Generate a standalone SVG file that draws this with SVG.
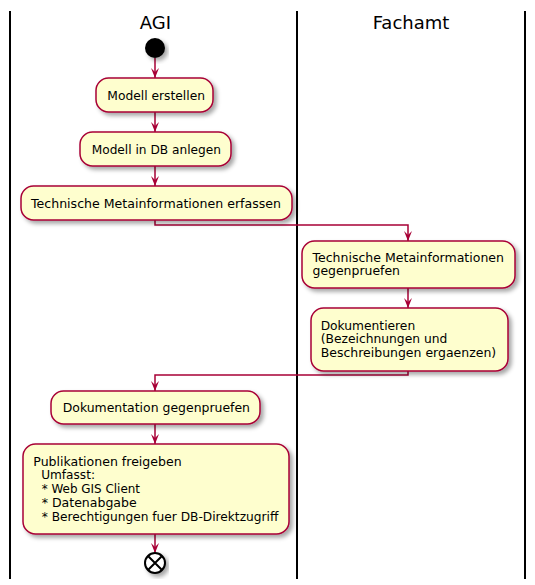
<svg xmlns="http://www.w3.org/2000/svg" width="535" height="585" viewBox="0 0 535 585">
<defs>
<filter id="sh" x="-10%" y="-10%" width="130%" height="140%">
<feDropShadow dx="3" dy="3" stdDeviation="2" flood-color="#000" flood-opacity="0.35"/>
</filter>
<marker id="ah" viewBox="0 0 10 10" refX="10" refY="5" markerWidth="10" markerHeight="10" markerUnits="userSpaceOnUse" orient="auto">
<path d="M0,1 L10,5 L0,9 L4,5 Z" fill="#A80036"/>
</marker>
<style>
.lane{stroke:#000;stroke-width:2;fill:none}
.title{font-family:"DejaVu Sans",sans-serif;font-size:18px;fill:#000;text-anchor:middle}
.box{fill:#FEFECE;stroke:#A80036;stroke-width:1.5;filter:url(#sh)}
.t{font-family:"DejaVu Sans",sans-serif;font-size:12.4px;fill:#000}
.con{stroke:#A80036;stroke-width:1.5;fill:none;marker-end:url(#ah)}
</style>
</defs>
<g id="lanes">
<line class="lane" x1="10" y1="11" x2="10" y2="579"/>
<line class="lane" x1="297" y1="11" x2="297" y2="579"/>
<line class="lane" x1="525" y1="11" x2="525" y2="579"/>
<text class="title" x="155.5" y="28.5">AGI</text>
<text class="title" x="411" y="28.5">Fachamt</text>
</g>
<g id="connectors">
<path class="con" d="M155,58 L155,78"/>
<path class="con" d="M155,112 L155,132"/>
<path class="con" d="M155,166 L155,186"/>
<path class="con" d="M155,220 L155,225 L408,225 L408,241"/>
<path class="con" d="M408,288 L408,308"/>
<path class="con" d="M408,371 L408,375 L155,375 L155,391"/>
<path class="con" d="M155,424 L155,444"/>
<path class="con" d="M155,534 L155,553"/>
</g>
<g id="start">
<circle cx="155" cy="48" r="10" fill="#000" filter="url(#sh)"/>
</g>
<g id="n1">
<rect class="box" x="96" y="78" width="117" height="34" rx="12.5"/>
<text class="t" x="107.3" y="99.5" textLength="97.7" lengthAdjust="spacingAndGlyphs">Modell erstellen</text>
</g>
<g id="n2">
<rect class="box" x="80" y="132" width="151" height="34" rx="12.5"/>
<text class="t" x="91.7" y="153.5" textLength="129.3" lengthAdjust="spacingAndGlyphs">Modell in DB anlegen</text>
</g>
<g id="n3">
<rect class="box" x="21" y="186" width="271" height="34" rx="12.5"/>
<text class="t" x="31" y="208" textLength="250" lengthAdjust="spacingAndGlyphs">Technische Metainformationen erfassen</text>
</g>
<g id="n4">
<rect class="box" x="302" y="241" width="213" height="47" rx="12.5"/>
<text class="t" x="312.5" y="261.5" textLength="191.5" lengthAdjust="spacingAndGlyphs">Technische Metainformationen</text>
<text class="t" x="312.5" y="275" textLength="87.5" lengthAdjust="spacingAndGlyphs">gegenpruefen</text>
</g>
<g id="n5">
<rect class="box" x="311" y="308" width="197" height="63" rx="12.5"/>
<text class="t" x="320.7" y="329.5" textLength="94.5" lengthAdjust="spacingAndGlyphs">Dokumentieren</text>
<text class="t" x="320.7" y="343.2" textLength="126.6" lengthAdjust="spacingAndGlyphs">(Bezeichnungen und</text>
<text class="t" x="320.7" y="356.9" textLength="175.5" lengthAdjust="spacingAndGlyphs">Beschreibungen ergaenzen)</text>
</g>
<g id="n6">
<rect class="box" x="51" y="391" width="209" height="33" rx="12.5"/>
<text class="t" x="62.7" y="412" textLength="187.3" lengthAdjust="spacingAndGlyphs">Dokumentation gegenpruefen</text>
</g>
<g id="n7">
<rect class="box" x="23" y="444" width="266" height="90" rx="12.5"/>
<text class="t" x="33.3" y="465.7" textLength="148.3" lengthAdjust="spacingAndGlyphs">Publikationen freigeben</text>
<text class="t" x="41.2" y="479.4" textLength="53.8" lengthAdjust="spacingAndGlyphs">Umfasst:</text>
<text class="t" x="41.7" y="493.1" textLength="98.3" lengthAdjust="spacingAndGlyphs">* Web GIS Client</text>
<text class="t" x="41.7" y="506.8" textLength="95" lengthAdjust="spacingAndGlyphs">* Datenabgabe</text>
<text class="t" x="41.7" y="520.5" textLength="236.6" lengthAdjust="spacingAndGlyphs">* Berechtigungen fuer DB-Direktzugriff</text>
</g>
<g id="end">
<circle cx="155" cy="563" r="10" fill="#fff" stroke="#000" stroke-width="2" filter="url(#sh)"/>
<path d="M148,556 L162,570 M162,556 L148,570" stroke="#000" stroke-width="2"/>
</g>
</svg>
